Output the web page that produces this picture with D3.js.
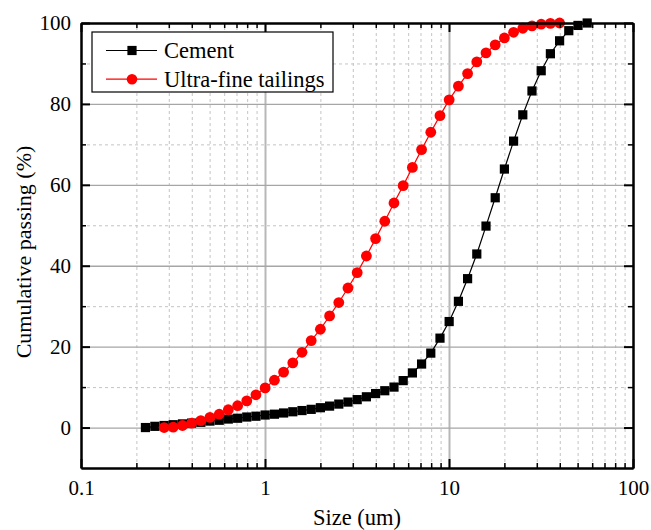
<!DOCTYPE html>
<html>
<head>
<meta charset="utf-8">
<script src="https://cdn.jsdelivr.net/npm/d3@7"></script>
<style>
  body { margin: 0; background: #fff; }
  svg { display: block; font-family: "Liberation Serif", "Times New Roman", serif; }
</style>
</head>
<body>
<script>
// particle size bins (um)
var cementSize = [0.224, 0.252, 0.283, 0.317, 0.356, 0.399, 0.448, 0.502, 0.564, 0.632,
  0.710, 0.796, 0.893, 1.002, 1.125, 1.262, 1.416, 1.589, 1.783, 2.000,
  2.244, 2.518, 2.825, 3.170, 3.557, 3.991, 4.477, 5.024, 5.637, 6.325,
  7.096, 7.962, 8.934, 10.02, 11.25, 12.62, 14.16, 15.89, 17.83, 20.00,
  22.44, 25.18, 28.25, 31.70, 35.57, 39.91, 44.77, 50.24, 56.37];
var cementPassing = [0.0, 0.3, 0.5, 0.7, 0.9, 1.1, 1.3, 1.6, 1.8, 2.1,
  2.3, 2.6, 2.8, 3.1, 3.3, 3.6, 3.9, 4.2, 4.5, 4.9,
  5.3, 5.8, 6.3, 6.9, 7.6, 8.4, 9.1, 10.0, 11.6, 13.5,
  15.7, 18.4, 22.1, 26.2, 31.2, 36.8, 42.9, 49.8, 56.8, 63.9,
  70.8, 77.3, 83.2, 88.2, 92.4, 95.6, 98.1, 99.4, 100];

var tailingsSize = [0.283, 0.317, 0.356, 0.399, 0.448, 0.502, 0.564, 0.632,
  0.710, 0.796, 0.893, 1.002, 1.125, 1.262, 1.416, 1.589, 1.783, 2.000,
  2.244, 2.518, 2.825, 3.170, 3.557, 3.991, 4.477, 5.024, 5.637, 6.325,
  7.096, 7.962, 8.934, 10.02, 11.25, 12.62, 14.16, 15.89, 17.83, 20.00,
  22.44, 25.18, 28.25, 31.70, 35.57, 39.91];
var tailingsPassing = [0.0, 0.1, 0.5, 1.1, 1.7, 2.5, 3.3, 4.4,
  5.4, 6.6, 8.1, 9.8, 11.7, 13.7, 16.0, 18.6, 21.5, 24.3,
  27.6, 30.9, 34.5, 38.3, 42.4, 46.7, 51.0, 55.5, 59.8, 64.3,
  68.7, 73.0, 77.1, 81.0, 84.4, 87.5, 90.4, 92.6, 94.6, 96.3,
  97.7, 98.7, 99.3, 99.7, 99.9, 100];

var seriesNames = ["Cement", "Ultra-fine tailings"];
var xMajorTicks = [0.1, 1, 10, 100];
var yMajorTicks = [0, 20, 40, 60, 80, 100];
var yMinorTicks = [10, 30, 50, 70, 90];
var xTitle = "Size (um)";
var yTitle = "Cumulative passing (%)";

var svgWidth = 651;
var svgHeight = 530;
var chartMargin = { top: 23, right: 18, bottom: 62, left: 81 };
var chartWidth = svgWidth - chartMargin.left - chartMargin.right;
var chartHeight = svgHeight - chartMargin.top - chartMargin.bottom;

// minor x ticks 2..9 in each decade
var xMinorTicks = [];
[0.1, 1, 10].forEach(function(dec) {
  [2, 3, 4, 5, 6, 7, 8, 9].forEach(function(m) { xMinorTicks.push(+(dec * m).toPrecision(3)); });
});

var svg = d3.select("body").append("svg")
  .attr("width", svgWidth)
  .attr("height", svgHeight);

var chartGroup = svg.append("g")
  .attr("transform", `translate(${chartMargin.left}, ${chartMargin.top})`);

var xScale = d3.scaleLog().domain([0.1, 100]).range([0, chartWidth]);
var yScale = d3.scaleLinear().domain([-10, 100]).range([chartHeight, 0]);

// grid
chartGroup.append("g")
  .attr("class", "grid")
  .attr("transform", `translate(0, ${chartHeight})`)
  .call(d3.axisBottom(xScale).tickValues(xMinorTicks).tickSize(-chartHeight).tickFormat(""))
  .call(g => g.select(".domain").remove())
  .selectAll("line").attr("stroke", "#c4c4c4").attr("stroke-width", 1).attr("stroke-dasharray", "3,3");

chartGroup.append("g")
  .attr("transform", `translate(0, ${chartHeight})`)
  .call(d3.axisBottom(xScale).tickValues([1, 10]).tickSize(-chartHeight).tickFormat(""))
  .call(g => g.select(".domain").remove())
  .selectAll("line").attr("stroke", "#b8b8b8").attr("stroke-width", 2);

chartGroup.append("g")
  .call(d3.axisLeft(yScale).tickValues(yMinorTicks).tickSize(-chartWidth).tickFormat(""))
  .call(g => g.select(".domain").remove())
  .selectAll("line").attr("stroke", "#c4c4c4").attr("stroke-width", 1).attr("stroke-dasharray", "3,3");

chartGroup.append("g")
  .call(d3.axisLeft(yScale).tickValues([0, 20, 40, 60, 80]).tickSize(-chartWidth).tickFormat(""))
  .call(g => g.select(".domain").remove())
  .selectAll("line").attr("stroke", "#a6a6a6").attr("stroke-width", 1.3);

// series lines
var line = d3.line().x(d => xScale(d[0])).y(d => yScale(d[1]));
var cementData = d3.zip(cementSize, cementPassing);
var tailingsData = d3.zip(tailingsSize, tailingsPassing);

chartGroup.append("path")
  .datum(cementData)
  .attr("fill", "none").attr("stroke", "#000").attr("stroke-width", 1.2)
  .attr("d", line);

chartGroup.selectAll(".cement-dot")
  .data(cementData)
  .enter()
  .append("rect")
  .attr("class", "cement-dot")
  .attr("x", d => xScale(d[0]) - 4.6)
  .attr("y", d => yScale(d[1]) - 4.6)
  .attr("width", 9.2).attr("height", 9.2)
  .attr("fill", "#000");

chartGroup.append("path")
  .datum(tailingsData)
  .attr("fill", "none").attr("stroke", "#ff0000").attr("stroke-width", 1.2)
  .attr("d", line);

chartGroup.selectAll(".tail-dot")
  .data(tailingsData)
  .enter()
  .append("circle")
  .attr("class", "tail-dot")
  .attr("cx", d => xScale(d[0]))
  .attr("cy", d => yScale(d[1]))
  .attr("r", 5.4)
  .attr("fill", "#ff0000");

// axes (ticks pointing in)
function styleAxis(g, size) {
  g.select(".domain").attr("stroke", "#000").attr("stroke-width", 2);
  g.selectAll("line").attr("stroke", "#000").attr("stroke-width", size);
  g.selectAll("text").attr("font-size", 21).attr("fill", "#000")
    .style("font-family", "'Liberation Serif', 'Times New Roman', serif");
}

chartGroup.append("g")
  .attr("transform", `translate(0, ${chartHeight})`)
  .call(d3.axisBottom(xScale).tickValues(xMinorTicks).tickSizeInner(-5).tickSizeOuter(0).tickFormat(""))
  .call(g => styleAxis(g, 1.5));
chartGroup.append("g")
  .attr("transform", `translate(0, ${chartHeight})`)
  .call(d3.axisBottom(xScale).tickValues(xMajorTicks).tickSizeInner(-9).tickSizeOuter(0)
    .tickPadding(12).tickFormat(d => String(d)))
  .call(g => styleAxis(g, 2));

chartGroup.append("g")
  .call(d3.axisTop(xScale).tickValues(xMinorTicks).tickSizeInner(-5).tickSizeOuter(0).tickFormat(""))
  .call(g => styleAxis(g, 1.5));
chartGroup.append("g")
  .call(d3.axisTop(xScale).tickValues(xMajorTicks).tickSizeInner(-9).tickSizeOuter(0).tickFormat(""))
  .call(g => styleAxis(g, 2));

chartGroup.append("g")
  .call(d3.axisLeft(yScale).tickValues(yMinorTicks).tickSizeInner(-5).tickSizeOuter(0).tickFormat(""))
  .call(g => styleAxis(g, 1.5));
chartGroup.append("g")
  .call(d3.axisLeft(yScale).tickValues(yMajorTicks).tickSizeInner(-9).tickSizeOuter(0).tickPadding(10))
  .call(g => styleAxis(g, 2));

chartGroup.append("g")
  .attr("transform", `translate(${chartWidth}, 0)`)
  .call(d3.axisRight(yScale).tickValues(yMinorTicks).tickSizeInner(-5).tickSizeOuter(0).tickFormat(""))
  .call(g => styleAxis(g, 1.5));
chartGroup.append("g")
  .attr("transform", `translate(${chartWidth}, 0)`)
  .call(d3.axisRight(yScale).tickValues(yMajorTicks).tickSizeInner(-9).tickSizeOuter(0).tickFormat(""))
  .call(g => styleAxis(g, 2));

// axis titles
svg.append("text")
  .attr("x", chartMargin.left + chartWidth / 2)
  .attr("y", 525)
  .attr("text-anchor", "middle")
  .attr("font-size", 22.5)
  .text(xTitle);

svg.append("text")
  .attr("transform", "translate(31, 252) rotate(-90)")
  .attr("text-anchor", "middle")
  .attr("font-size", 22)
  .text(yTitle);

// legend
var legend = svg.append("g").attr("transform", "translate(92, 32)");
legend.append("rect")
  .attr("width", 241).attr("height", 60)
  .attr("fill", "#fff").attr("stroke", "#000").attr("stroke-width", 1.2);

var legendColors = ["#000", "#ff0000"];
seriesNames.forEach(function(name, i) {
  var ly = 18.5 + i * 28.7;
  legend.append("line")
    .attr("x1", 14).attr("x2", 65).attr("y1", ly).attr("y2", ly)
    .attr("stroke", legendColors[i]).attr("stroke-width", 1.2);
  if (i === 0) {
    legend.append("rect")
      .attr("x", 40 - 4.6).attr("y", ly - 4.6).attr("width", 9.2).attr("height", 9.2)
      .attr("fill", legendColors[i]);
  } else {
    legend.append("circle")
      .attr("cx", 40).attr("cy", ly).attr("r", 5.3).attr("fill", legendColors[i]);
  }
  legend.append("text")
    .attr("x", 72).attr("y", ly)
    .attr("dy", "0.35em")
    .attr("font-size", 22.5)
    .text(name);
});
</script>
</body>
</html>
